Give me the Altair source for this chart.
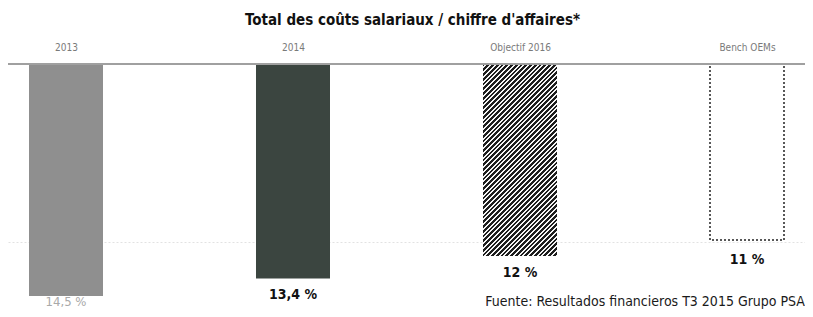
import altair as alt
import pandas as pd

# ---- data ----
categories = ["2013", "2014", "Objectif 2016", "Bench OEMs"]
values = [14.5, 13.4, 12.0, 11.0]
value_labels = ["14,5 %", "13,4 %", "12 %", "11 %"]
title_text = "Total des coûts salariaux / chiffre d'affaires*"
source_text = "Fuente: Resultados financieros T3 2015 Grupo PSA"

df = pd.DataFrame({"cat": categories, "v": values, "lab": value_labels})

# ---- style ----
FONT = "Liberation Sans Narrow, Arial Narrow, DejaVu Sans Condensed, sans-serif"
PX_PER_PCT = 16
Y_MAX = 15
PLOT_H = PX_PER_PCT * Y_MAX
PLOT_W = 797
BAR_W = 74


def hatch(w, h, n=56, frac=0.62, dark="#1c1c1c", light="#f4f4f4"):
    s = (w + h) / (w * w + h * h)
    stops = []
    for i in range(n):
        a, b, c = i / n, (i + frac) / n, (i + 1) / n
        stops += [
            alt.GradientStop(offset=a, color=dark),
            alt.GradientStop(offset=b, color=dark),
            alt.GradientStop(offset=b, color=light),
            alt.GradientStop(offset=c, color=light),
        ]
    return alt.LinearGradient(gradient="linear", x1=0, y1=0, x2=w * s, y2=h * s, stops=stops)


bar_styles = [
    dict(fill="#8f8f8f"),
    dict(fill="#3b4540"),
    dict(fill=hatch(BAR_W, values[2] * PX_PER_PCT)),
    dict(fill="#ffffff", stroke="#222222", strokeDash=[2, 2], strokeWidth=1.5),
]
label_styles = [
    dict(color="#a9a9a9", fontWeight="normal", dy=6, fontSize=13),
    dict(color="#111111", fontWeight="bold", dy=17, fontSize=14),
    dict(color="#111111", fontWeight="bold", dy=17, fontSize=14),
    dict(color="#111111", fontWeight="bold", dy=20, fontSize=14),
]

x_enc = alt.X(
    "cat:N",
    sort=categories,
    scale=alt.Scale(type="point", padding=0.2555),
    axis=alt.Axis(
        orient="top", title=None, domain=False, ticks=False, labelPadding=12,
        labelColor="#7a7a7a", labelFont=FONT, labelFontSize=10, labelAngle=0,
    ),
)
y_scale = alt.Scale(domain=[0, Y_MAX], reverse=True, nice=False, zero=True)
y_axis = alt.Axis(
    values=[11.1], grid=True, gridColor="#e2e2e2", gridDash=[2, 2], labels=False,
    ticks=False, domain=False, title=None,
)

base = alt.Chart(df)
layers = []
for i, c in enumerate(categories):
    sel = base.transform_filter(alt.datum.cat == c)
    layers.append(
        sel.mark_bar(width=BAR_W, **bar_styles[i]).encode(
            x=x_enc, y=alt.Y("v:Q", scale=y_scale, axis=y_axis)
        )
    )
    layers.append(
        sel.mark_text(font=FONT, baseline="middle", **label_styles[i]).encode(
            x=x_enc, y=alt.Y("v:Q", scale=y_scale, axis=y_axis), text="lab:N"
        )
    )

baseline = alt.Chart(pd.DataFrame({"a": [0]})).mark_rule(color="#a0a0a0", strokeWidth=2).encode(
    x=alt.value(0), x2=alt.value(PLOT_W), y=alt.value(0)
)
source = alt.Chart(pd.DataFrame({"t": [source_text]})).mark_text(
    align="right", baseline="middle", font=FONT, fontSize=14, color="#1a1a1a"
).encode(x=alt.value(PLOT_W), y=alt.value(PLOT_H - 2), text="t:N")

chart = (
    alt.layer(*layers, baseline, source)
    .properties(
        width=PLOT_W,
        height=PLOT_H,
        title=alt.TitleParams(
            title_text, font=FONT, fontSize=15, fontWeight="bold", color="#111111",
            anchor="middle", offset=14, dx=6,
        ),
        autosize=alt.AutoSizeParams(type="none"),
        padding={"left": 0, "top": 56, "right": 0, "bottom": 5},
    )
    .configure_view(stroke=None)
)

chart.save("out.html", embed_options={"renderer": "svg", "actions": False})
